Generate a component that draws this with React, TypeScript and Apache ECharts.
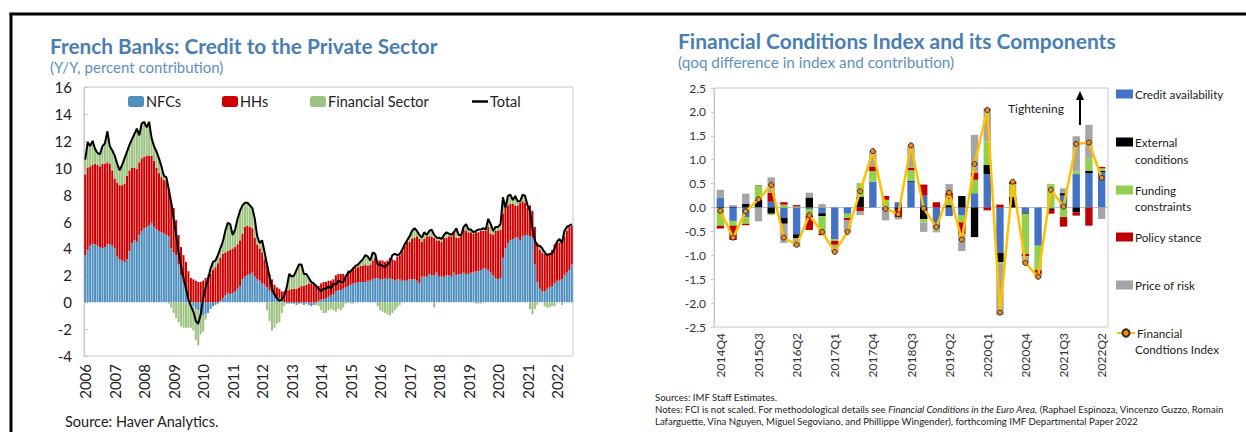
import React, { useEffect, useRef } from "react";
import * as echarts from "echarts";

// ---------- Left chart: French banks credit (monthly, Jan 2006 - Jul 2022) ----------
const START_YEAR = 2006;
const N_MONTHS = 199;
const months: string[] = [];
for (let i = 0; i < N_MONTHS; i++) {
  const y = START_YEAR + Math.floor(i / 12);
  const m = (i % 12) + 1;
  months.push(`${y}-${m < 10 ? "0" + m : m}`);
}

const nfcs = [
  3.5, 3.9, 4.2, 4.3, 4.3, 4.2, 4.1, 4.0, 4.1, 4.3, 4.3, 4.2,
  4.0, 3.4, 3.2, 3.1, 3.0, 3.2, 3.8, 4.4, 4.6, 4.5, 5.0, 5.3,
  5.5, 5.6, 5.7, 5.9, 5.6, 5.4, 5.3, 5.2, 5.1, 5.0, 4.9, 4.0,
  3.7, 3.5, 2.8, 2.0, 1.5, 1.0, 0.4, 0.0, -0.3, -0.5, -0.6, -0.8,
  -1.0, -0.9, -0.8, -0.5, -0.3, -0.2, -0.1, 0.1, 0.3, 0.5, 0.7, 0.6,
  0.7, 0.8, 1.0, 1.2, 1.7, 1.9, 2.0, 2.1, 2.2, 1.9, 1.7, 1.6,
  1.4, 1.3, 1.1, 0.9, 0.7, 0.5, 0.4, 0.3, 0.1, 0.0, -0.1, -0.1,
  -0.1, -0.1, -0.2, -0.1, -0.1, -0.2, -0.1, -0.2, -0.3, -0.2, -0.1, 0.1,
  0.2, 0.2, 0.3, 0.4, 0.5, 0.6, 0.8, 0.9, 0.9, 1.0, 1.1, 1.2,
  1.3, 1.4, 1.4, 1.5, 1.5, 1.5, 1.5, 1.6, 1.6, 1.7, 1.8, 1.8,
  1.7, 1.7, 1.8, 1.7, 1.8, 1.7, 1.6, 1.7, 1.7, 1.6, 1.6, 1.6,
  1.7, 1.7, 1.7, 1.6, 1.4, 1.9, 1.9, 1.9, 2.1, 2.0, 2.0, 2.2,
  1.9, 1.9, 1.9, 2.0, 2.0, 1.9, 2.2, 2.0, 2.1, 2.1, 2.2, 2.1,
  2.1, 2.2, 2.2, 2.3, 2.3, 2.4, 2.5, 2.5, 2.4, 2.2, 2.0, 1.8,
  1.7, 1.8, 3.3, 4.0, 4.4, 4.6, 4.7, 4.8, 4.8, 4.6, 4.9, 5.0,
  5.0, 4.9, 4.8, 2.8, 1.5, 1.0, 0.8, 0.8, 1.0, 1.1, 1.2, 1.4,
  1.6, 1.6, 1.7, 2.0, 2.2, 2.4, 2.8,
];

const hhs = [
  6.0, 6.1, 5.9, 5.9, 6.0, 6.0, 6.0, 6.3, 6.2, 6.1, 6.0, 5.6,
  5.2, 5.5, 5.5, 5.6, 5.8, 6.2, 6.0, 5.6, 5.4, 5.4, 5.4, 5.4,
  5.3, 5.3, 5.2, 5.0, 4.9, 4.6, 4.3, 4.1, 4.0, 4.0, 3.5, 3.4,
  3.3, 2.6, 2.2, 2.1, 2.0, 2.0, 1.9, 1.8, 1.7, 1.6, 1.5, 1.5,
  1.6, 1.8, 1.9, 2.1, 2.4, 2.6, 2.9, 3.2, 3.3, 3.2, 3.1, 3.3,
  3.3, 3.3, 3.3, 3.4, 3.4, 3.7, 3.7, 3.5, 3.3, 2.9, 2.6, 2.4,
  2.3, 1.9, 1.6, 1.2, 1.0, 0.8, 0.7, 0.7, 0.7, 0.8, 0.9, 0.9,
  1.0, 1.0, 1.0, 1.1, 1.2, 1.2, 1.3, 1.4, 1.4, 1.4, 1.3, 1.1,
  1.2, 1.3, 1.2, 1.2, 1.1, 1.1, 1.2, 1.2, 1.2, 1.1, 0.9, 1.1,
  1.1, 1.2, 1.2, 1.1, 1.2, 1.2, 1.3, 1.1, 1.2, 1.4, 1.5, 1.3,
  1.4, 1.4, 1.2, 1.4, 1.5, 1.5, 1.5, 1.7, 1.8, 2.2, 2.6, 2.9,
  2.8, 3.0, 3.1, 3.3, 3.3, 2.6, 2.8, 3.0, 2.8, 2.9, 2.8, 2.4,
  2.7, 2.6, 2.9, 2.8, 2.9, 3.0, 3.0, 2.8, 2.7, 2.9, 3.2, 3.2,
  3.1, 3.0, 2.9, 2.9, 2.9, 2.9, 2.8, 2.8, 3.2, 2.9, 3.0, 3.5,
  3.6, 3.6, 3.3, 3.0, 2.8, 2.7, 2.6, 2.4, 2.4, 2.8, 2.6, 2.4,
  2.0, 2.3, 2.0, 2.8, 2.9, 2.9, 2.9, 2.8, 2.6, 2.5, 2.7, 2.9,
  2.8, 2.8, 2.8, 2.9, 3.1, 3.2, 2.9,
];

const financial = [
  1.1, 1.9, 1.5, 1.8, 1.1, 0.9, 0.9, 1.3, 1.5, 2.3, 1.3, 1.5,
  1.7, 1.4, 1.1, 1.5, 1.9, 1.8, 1.9, 2.1, 2.5, 3.0, 2.0, 2.6,
  2.6, 2.1, 2.5, 1.3, 1.1, 1.2, 1.1, 0.8, 0.3, 0.2, -0.1, -0.4,
  -0.8, -1.2, -1.5, -1.8, -1.9, -1.9, -1.9, -1.9, -1.8, -2.3, -2.6, -1.6,
  -1.2, -0.4, 0.2, 0.4, 0.6, 0.5, 0.5, 0.6, 0.8, 1.5, 2.0, 1.8,
  1.0, 1.3, 1.9, 2.2, 2.1, 1.8, 1.7, 1.6, 1.5, 1.4, 0.6, 0.4,
  0.9, 0.3, -0.6, -1.4, -2.1, -1.9, -1.6, -1.5, -0.8, -0.3, 0.3, 1.2,
  0.9, 1.0, 1.4, 1.7, 1.6, 0.9, 0.8, 0.4, 0.1, 0.0, -0.1, -0.3,
  -0.6, -0.8, -0.8, -0.6, -0.5, -0.6, -0.7, -0.5, -0.6, -0.4, -0.1, 0.1,
  -0.1, -0.1, 0.1, 0.2, 0.3, 0.5, 0.7, 0.7, 0.3, 0.6, 0.3, -0.3,
  -0.6, -0.7, -0.8, -0.9, -1.0, -0.8, -0.6, -0.4, -0.2, 0.1, 0.1, 0.1,
  0.4, 0.6, 0.7, 0.4, 0.3, 0.3, 0.5, 0.1, 0.4, 0.5, -0.4, 0.2,
  0.2, 0.2, 0.2, 0.4, 0.2, 0.1, 0.0, 0.7, 0.2, 0.0, 0.2, 0.5,
  0.2, 0.2, 0.1, -0.1, -0.1, -0.1, 0.2, 0.1, 0.6, 0.7, 0.3, 0.3,
  0.3, 0.4, 1.2, 0.0, 0.7, 0.7, 0.3, 0.7, 0.3, 0.1, 0.5, 0.5,
  0.2, -0.5, -0.9, -0.5, -0.2, 0.3, 0.3, -0.3, -0.4, -0.4, -0.3, -0.3,
  0.1, 0.3, -0.2, 0.4, 0.3, 0.1, 0.1,
];

const total = [
  10.6, 11.9, 11.6, 12.0, 11.4, 11.1, 11.0, 11.6, 11.8, 12.7, 11.6, 11.3,
  10.9, 10.3, 9.8, 10.2, 10.7, 11.2, 11.7, 12.1, 12.5, 12.9, 12.4, 13.3,
  13.4, 13.0, 13.4, 12.2, 11.6, 11.2, 10.7, 10.1, 9.4, 9.3, 8.4, 7.4,
  6.2, 5.0, 3.7, 2.7, 1.8, 1.0, 0.2, -0.3, -0.7, -1.4, -1.6, -0.9,
  0.3, 1.1, 1.7, 2.5, 3.0, 3.1, 3.5, 4.0, 4.5, 5.3, 5.9, 5.8,
  5.0, 5.4, 6.2, 6.8, 7.2, 7.4, 7.4, 7.2, 7.0, 6.2, 4.9, 4.4,
  4.6, 3.7, 2.8, 1.9, 1.0, 0.6, 0.3, 0.1, 0.2, 0.5, 1.1, 2.1,
  1.9, 2.0, 2.4, 2.8, 2.8, 2.1, 2.1, 1.8, 1.5, 1.4, 1.2, 1.0,
  0.8, 1.0, 1.0, 1.2, 1.0, 1.4, 1.3, 1.6, 1.5, 1.5, 1.9, 2.2,
  2.3, 2.5, 2.7, 2.8, 3.0, 3.2, 3.5, 3.4, 3.1, 3.7, 3.6, 2.8,
  2.8, 2.7, 2.6, 2.8, 3.0, 3.5, 3.6, 3.5, 3.6, 3.9, 4.3, 4.6,
  4.9, 5.3, 5.5, 5.3, 5.0, 4.8, 5.2, 5.0, 5.3, 5.4, 5.0, 4.8,
  4.8, 4.7, 5.0, 5.2, 5.1, 5.0, 5.2, 5.5, 5.0, 5.0, 5.6, 5.8,
  5.4, 5.4, 5.2, 5.3, 5.4, 5.4, 5.5, 5.4, 6.2, 5.8, 5.3, 5.6,
  5.6, 5.8, 7.8, 7.0, 7.9, 8.0, 7.6, 7.9, 7.5, 7.5, 8.0, 7.9,
  7.2, 6.8, 5.5, 4.6, 4.2, 4.2, 4.0, 3.7, 3.5, 3.6, 3.6, 4.0,
  4.5, 4.7, 4.4, 5.3, 5.6, 5.7, 5.8,
];

// ---------- Right chart: Financial Conditions Index (quarterly) ----------
const quarters = [
  "2014Q4",
  "2015Q1", "2015Q2", "2015Q3", "2015Q4",
  "2016Q1", "2016Q2", "2016Q3", "2016Q4",
  "2017Q1", "2017Q2", "2017Q3", "2017Q4",
  "2018Q1", "2018Q2", "2018Q3", "2018Q4",
  "2019Q1", "2019Q2", "2019Q3", "2019Q4",
  "2020Q1", "2020Q2", "2020Q3", "2020Q4",
  "2021Q1", "2021Q2", "2021Q3", "2021Q4",
  "2022Q1", "2022Q2",
];

const creditAvailability = [
  0.2, -0.28, -0.2, 0, 0.12, -0.22, -0.56, -0.03, -0.12, -0.66, -0.13, 0, 0.54,
  -0.06, 0.11, 0.54, 0.25, -0.4, -0.18, -0.17, 0.3, 0.7, -0.95, 0, -0.11, -0.8,
  -0.02, 0.25, 0.7, 0.72, 0.74,
];
const externalConditions = [
  -0.02, 0.02, 0.08, 0.16, -0.13, -0.12, -0.08, 0.21, -0.06, 0, 0, 0.23, 0,
  0, -0.03, 0.02, -0.24, -0.02, 0.05, 0.24, -0.62, 0.19, -0.19, 0.22, -0.02, 0,
  -0.03, 0.05, -0.1, 0.05, 0.03,
];
const fundingConstraints = [
  -0.36, -0.1, -0.14, 0.29, -0.03, 0.06, 0.02, -0.14, -0.37, -0.04, -0.09, 0.28,
  0.22, 0.16, 0, 0.22, -0.07, -0.06, 0.12, -0.14, 0.28, 0.49, -0.03, 0.27,
  -0.84, -0.51, 0.49, -0.2, 0.05, 0.26, 0.05,
];
const policyStance = [
  -0.06, -0.3, -0.03, 0.01, 0.19, 0.05, 0.03, -0.3, -0.03, -0.08, -0.04, -0.08,
  0.1, 0.08, -0.17, 0.05, 0.23, 0.11, 0.14, -0.24, 0.15, -0.06, 0.06, 0.05,
  -0.05, -0.08, -0.08, -0.2, -0.07, -0.38, 0.03,
];
const priceOfRisk = [
  0.17, 0.03, 0.21, -0.29, 0.32, -0.4, -0.18, 0.1, 0.07, -0.15, -0.25, -0.08,
  0.33, -0.21, -0.05, 0.46, -0.2, -0.04, 0.18, -0.36, 0.79, 0.7, -1.08, 0,
  -0.14, -0.06, 0, 0.1, 0.74, 0.7, -0.24,
];
const fci = [
  -0.07, -0.63, -0.08, 0.17, 0.47, -0.63, -0.78, -0.16, -0.51, -0.93, -0.51,
  0.34, 1.18, -0.03, -0.14, 1.3, -0.02, -0.41, 0.31, -0.67, 0.91, 2.04, -2.2,
  0.54, -1.16, -1.45, 0.37, 0.02, 1.33, 1.36, 0.62,
];

const FONT = 'Lato, "Open Sans", "Noto Sans", sans-serif';
const TITLE_BLUE = "#4a7eb3";
const SUB_BLUE = "#5f8fc0";

function buildOption(): any {
  const leftBar = (name: string, data: number[], color: string) => ({
    name,
    type: "bar",
    xAxisIndex: 0,
    yAxisIndex: 0,
    stack: "credit",
    data,
    barCategoryGap: "18%",
    itemStyle: { color },
  });
  const rightBar = (name: string, data: number[], color: string, extra: any = {}) => ({
    name,
    type: "bar",
    xAxisIndex: 1,
    yAxisIndex: 1,
    stack: "fci",
    data,
    barCategoryGap: "42%",
    itemStyle: { color },
    ...extra,
  });

  const legendBase = {
    padding: 0,
    itemGap: 0,
    selectedMode: false,
    textStyle: { fontFamily: FONT, color: "#222" },
  };
  const leftLegend = (name: string, left: number, extra: any = {}) => ({
    ...legendBase,
    data: [name],
    left,
    top: 94,
    itemWidth: 16,
    itemHeight: 11,
    textStyle: { ...legendBase.textStyle, fontSize: 14.5, padding: [0, 0, 0, -3] },
    ...extra,
  });
  const rightLegend = (name: string, centerY: number, label: string, extra: any = {}) => ({
    ...legendBase,
    data: [name],
    left: 1116,
    top: centerY - 7,
    itemWidth: 17,
    itemHeight: 9,
    formatter: () => label,
    textStyle: { ...legendBase.textStyle, fontSize: 11.7, padding: [0, 0, 0, -3] },
    ...extra,
  });

  const txt = (
    text: string,
    x: number,
    y: number,
    fontSize: number,
    fill: string,
    fontWeight: any = "normal",
    extraStyle: any = {}
  ) => ({
    type: "text",
    x,
    y,
    silent: true,
    style: {
      text,
      fontSize,
      fontWeight,
      fontFamily: FONT,
      fill,
      textVerticalAlign: "middle",
      verticalAlign: "middle",
      ...extraStyle,
    },
  });

  const NOTE = 9.6;

  return {
    animation: false,
    backgroundColor: "#fff",
    textStyle: { fontFamily: FONT },
    grid: [
      { left: 84, top: 87, width: 489, height: 269, show: true, borderColor: "#c8c8c8", borderWidth: 1 },
      { left: 714, top: 88, width: 394, height: 239, show: true, borderColor: "#c8c8c8", borderWidth: 1 },
    ],
    xAxis: [
      {
        type: "category",
        gridIndex: 0,
        data: months,
        boundaryGap: true,
        axisLine: { show: false },
        axisTick: { show: false },
        axisLabel: {
          rotate: 90,
          interval: (i: number) => i % 12 === 0,
          formatter: (v: string) => v.slice(0, 4),
          fontSize: 15,
          color: "#222",
          margin: 8,
          fontFamily: FONT,
        },
      },
      {
        type: "category",
        gridIndex: 1,
        data: quarters,
        boundaryGap: true,
        axisLine: { show: false },
        axisTick: { show: false },
        axisLabel: {
          rotate: 90,
          interval: 2,
          fontSize: 12,
          color: "#333",
          margin: 6,
          fontFamily: FONT,
        },
      },
    ],
    yAxis: [
      {
        type: "value",
        gridIndex: 0,
        min: -4,
        max: 16,
        interval: 2,
        splitLine: { show: false },
        axisLine: { show: true, lineStyle: { color: "#c8c8c8" } },
        axisTick: { show: true, inside: true, length: 4, lineStyle: { color: "#c8c8c8" } },
        axisLabel: { fontSize: 15, color: "#222", margin: 12, fontFamily: FONT },
      },
      {
        type: "value",
        gridIndex: 1,
        min: -2.5,
        max: 2.5,
        interval: 0.5,
        splitLine: { show: false },
        axisLine: { show: true, lineStyle: { color: "#c8c8c8" } },
        axisTick: { show: true, length: 3, lineStyle: { color: "#c8c8c8" } },
        axisLabel: {
          fontSize: 12,
          color: "#333",
          margin: 8,
          fontFamily: FONT,
          formatter: (v: number) => v.toFixed(1),
        },
      },
    ],
    legend: [
      leftLegend("NFCs", 128),
      leftLegend("HHs", 222),
      leftLegend("Financial Sector", 310),
      leftLegend("Total", 472, { itemHeight: 2.5, icon: "rect" }),
      rightLegend("Credit availability", 95, "Credit availability", { icon: "rect" }),
      rightLegend("External conditions", 143, "External", { icon: "rect" }),
      rightLegend("Funding constraints", 191, "Funding", { icon: "rect" }),
      rightLegend("Policy stance", 238, "Policy stance", { icon: "rect" }),
      rightLegend("Price of risk", 286, "Price of risk", { icon: "rect" }),
      rightLegend("Financial Condtions Index", 334, "Financial", { itemWidth: 18 }),
    ],
    series: [
      leftBar("NFCs", nfcs, "#4f8fbd"),
      leftBar("HHs", hhs, "#cc0000"),
      leftBar("Financial Sector", financial, "#9cc37f"),
      {
        name: "Total",
        type: "line",
        xAxisIndex: 0,
        yAxisIndex: 0,
        data: total,
        symbol: "none",
        z: 10,
        lineStyle: { color: "#000", width: 2 },
        itemStyle: { color: "#000" },
      },
      rightBar("Credit availability", creditAvailability, "#4472c4", {
        markLine: {
          silent: true,
          symbol: ["none", "none"],
          label: { show: false },
          lineStyle: { color: "#bfbfbf", width: 1, type: "solid" },
          data: [{ yAxis: 0 }],
          z: 1,
        },
      }),
      rightBar("External conditions", externalConditions, "#000000"),
      rightBar("Funding constraints", fundingConstraints, "#92d050"),
      rightBar("Policy stance", policyStance, "#c00000"),
      rightBar("Price of risk", priceOfRisk, "#a5a5a5"),
      {
        name: "Financial Condtions Index",
        type: "line",
        xAxisIndex: 1,
        yAxisIndex: 1,
        data: fci,
        z: 10,
        symbol: "circle",
        symbolSize: 5,
        lineStyle: { color: "#ffc000", width: 2.5 },
        itemStyle: { color: "#f08a24", borderColor: "#3a2a10", borderWidth: 1 },
      },
    ],
    graphic: [
      // frame
      { type: "line", silent: true, shape: { x1: 9.5, y1: 14, x2: 1246, y2: 14 }, style: { stroke: "#000", lineWidth: 3 } },
      { type: "line", silent: true, shape: { x1: 11, y1: 13, x2: 11, y2: 432 }, style: { stroke: "#000", lineWidth: 3 } },
      // left titles
      txt("French Banks: Credit to the Private Sector", 50, 45, 20.8, TITLE_BLUE, "bold"),
      txt("(Y/Y, percent contribution)", 50, 67, 15, SUB_BLUE),
      txt("Source: Haver Analytics.", 65, 421, 14.5, "#222"),
      // right titles
      txt("Financial Conditions Index and its Components", 678, 40, 21, TITLE_BLUE, "bold"),
      txt("(qoq difference in index and contribution)", 678, 62, 15.3, SUB_BLUE),
      // tightening annotation
      txt("Tightening", 1008, 108, 12, "#222"),
      { type: "line", silent: true, shape: { x1: 1080, y1: 125, x2: 1080, y2: 98 }, style: { stroke: "#000", lineWidth: 2 } },
      { type: "polygon", silent: true, shape: { points: [[1076, 100], [1084, 100], [1080, 91]] }, style: { fill: "#000" } },
      // legend second lines
      txt("conditions", 1135, 159, 11.7, "#222"),
      txt("constraints", 1135, 206, 11.7, "#222"),
      txt("Condtions Index", 1135, 349, 11.7, "#222"),
      // notes
      txt("Sources: IMF Staff Estimates.", 655, 397, NOTE, "#222"),
      txt(
        "{n|Notes: FCI is not scaled. For methodological details see }{i|Financial Conditions in the Euro Area,}{n| (Raphael Espinoza, Vincenzo Guzzo, Romain}",
        655,
        409,
        NOTE,
        "#222",
        "normal",
        {
          rich: {
            n: { fontSize: NOTE, fontFamily: FONT, fill: "#222" },
            i: { fontSize: NOTE, fontFamily: FONT, fill: "#222", fontStyle: "italic" },
          },
        }
      ),
      txt(
        "Lafarguette, Vina Nguyen, Miguel Segoviano, and Phillippe Wingender), forthcoming IMF Departmental Paper 2022",
        655,
        421,
        NOTE,
        "#222"
      ),
    ],
  };
}

export default function App() {
  const ref = useRef<HTMLDivElement>(null);
  useEffect(() => {
    if (!ref.current) return;
    const chart = echarts.init(ref.current, null, { renderer: "svg" });
    chart.setOption(buildOption());
    return () => chart.dispose();
  }, []);
  return (
    <div
      ref={ref}
      style={{ position: "fixed", left: 0, top: 0, width: 1246, height: 432, background: "#fff" }}
    />
  );
}
